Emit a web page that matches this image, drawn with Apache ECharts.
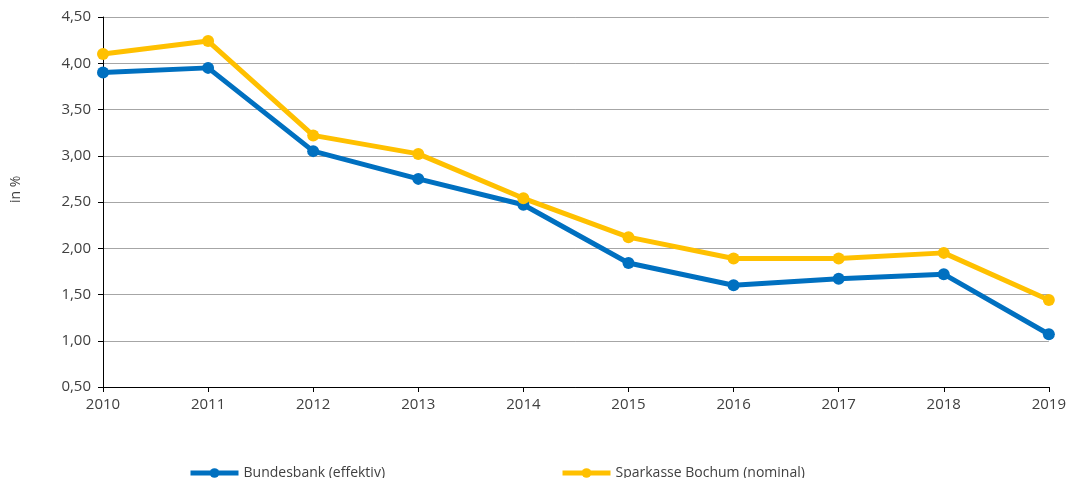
<!DOCTYPE html>
<html>
<head>
<meta charset="utf-8">
<script src="https://cdn.jsdelivr.net/npm/echarts@6/dist/echarts.min.js"></script>
<style>
  html, body { margin: 0; padding: 0; background: #fff; }
  #chart { width: 1069px; height: 478px; }
</style>
</head>
<body>
<div id="chart"></div>
<script>
var years = ['2010', '2011', '2012', '2013', '2014', '2015', '2016', '2017', '2018', '2019'];
var bundesbank = [3.90, 3.95, 3.05, 2.75, 2.47, 1.84, 1.60, 1.67, 1.72, 1.07];
var sparkasse = [4.10, 4.24, 3.22, 3.02, 2.54, 2.12, 1.89, 1.89, 1.95, 1.44];
var seriesNames = ['Bundesbank (effektiv)', 'Sparkasse Bochum (nominal)'];

var font = 'Open Sans';
var textColor = '#404040';

var option = {
    animation: false,
    textStyle: { fontFamily: font },
    grid: { left: 103, right: 20, top: 17, bottom: 91 },
    legend: {
        left: 183,
        top: 461,
        itemWidth: 48,
        itemHeight: 12,
        itemGap: 175,
        lineStyle: { width: 5 },
        textStyle: { fontFamily: font, fontSize: 14, color: textColor },
        data: seriesNames
    },
    // y axis title, placed where the reference has it
    graphic: [{
        type: 'text',
        x: 9,
        y: 203,
        rotation: Math.PI / 2,
        style: { text: 'in %', fontFamily: font, fontSize: 14, fill: textColor }
    }],
    xAxis: {
        type: 'category',
        data: years,
        boundaryGap: false,
        axisLine: { lineStyle: { color: '#000', width: 1 } },
        axisTick: { show: true, length: 5, lineStyle: { color: '#000' } },
        axisLabel: { fontFamily: font, fontSize: 15, color: textColor, margin: 10 },
        splitLine: { show: false }
    },
    yAxis: {
        type: 'value',
        min: 0.5,
        max: 4.5,
        interval: 0.5,
        axisLine: { show: true, lineStyle: { color: '#000', width: 1 } },
        axisTick: { show: true, length: 5, lineStyle: { color: '#000' } },
        axisLabel: {
            fontFamily: font, fontSize: 15, color: textColor, margin: 12,
            formatter: function (v) { return v.toFixed(2).replace('.', ','); }
        },
        splitLine: { lineStyle: { color: '#a6a6a6', width: 1 } }
    },
    series: [{
        name: seriesNames[0],
        type: 'line',
        data: bundesbank,
        symbol: 'circle',
        symbolSize: 12,
        color: '#0070c0',
        lineStyle: { width: 5, color: '#0070c0' },
        itemStyle: { color: '#0070c0' }
    }, {
        name: seriesNames[1],
        type: 'line',
        data: sparkasse,
        symbol: 'circle',
        symbolSize: 12,
        color: '#ffc000',
        lineStyle: { width: 5, color: '#ffc000' },
        itemStyle: { color: '#ffc000' }
    }]
};

echarts.init(document.getElementById('chart')).setOption(option);
</script>
</body>
</html>
